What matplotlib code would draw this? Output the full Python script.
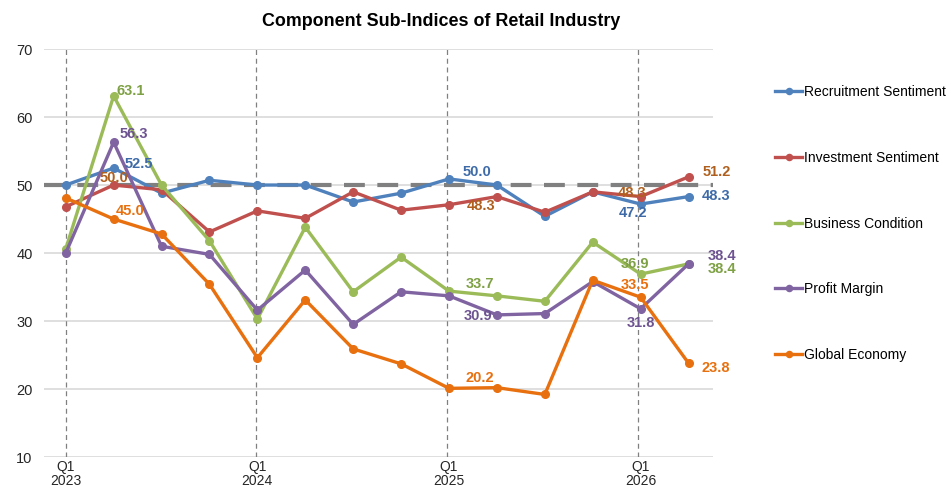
import matplotlib.pyplot as plt
import numpy as np

plt.rcParams["font.family"] = ["Liberation Sans", "DejaVu Sans"]

quarters = ["Q1\n2023", "", "", "", "Q1\n2024", "", "", "", "Q1\n2025", "", "", "", "Q1\n2026", ""]

recruitment = [50.0, 52.5, 48.8, 50.7, 50.0, 50.0, 47.5, 48.8, 50.9, 50.0, 45.4, 49.0, 47.2, 48.3]
investment = [46.8, 50.0, 49.3, 43.1, 46.2, 45.1, 49.0, 46.3, 47.1, 48.3, 46.0, 49.0, 48.3, 51.2]
business = [40.6, 63.1, 50.0, 41.8, 30.3, 43.8, 34.3, 39.4, 34.4, 33.7, 32.9, 41.6, 36.9, 38.4]
profit = [40.0, 56.3, 41.0, 39.8, 31.6, 37.5, 29.5, 34.3, 33.7, 30.9, 31.1, 35.8, 31.8, 38.4]
global_econ = [48.1, 45.0, 42.8, 35.4, 24.6, 33.1, 25.9, 23.7, 20.1, 20.2, 19.2, 36.0, 33.5, 23.8]

series = [
    ("Recruitment Sentiment", recruitment, "#4F81BD", "#3E6BA8"),
    ("Investment Sentiment", investment, "#C0504D", "#B0601E"),
    ("Business Condition", business, "#9BBB59", "#7FA145"),
    ("Profit Margin", profit, "#8064A2", "#6E5391"),
    ("Global Economy", global_econ, "#E8700F", "#E8700F"),
]

# label offsets in pixels (dx, dy, ha) per series and point index
label_pos = {
    "Recruitment Sentiment": {1: (11, 4, "left"), 9: (-20, 13, "center"), 12: (-8, -9, "center"), 13: (13, 1, "left")},
    "Investment Sentiment": {1: (0, 7, "center"), 9: (-16, -9, "center"), 12: (-9, 4, "center"), 13: (14, 5, "left")},
    "Business Condition": {1: (3, 5, "left"), 9: (-17, 12, "center"), 12: (-6, 10, "center"), 13: (19, -5, "left")},
    "Profit Margin": {1: (6, 8, "left"), 9: (-19, -1, "center"), 12: (0, -14, "center"), 13: (19, 8, "left")},
    "Global Economy": {1: (2, 8, "left"), 9: (-17, 10, "center"), 12: (-6, 12, "center"), 13: (13, -5, "left")},
}

x = np.arange(len(quarters))

fig = plt.figure(figsize=(9.5, 4.88), dpi=100)
ax = fig.add_axes([0.046, 0.0635, 0.704, 0.836])

ax.set_ylim(10, 70)
ax.set_xlim(-0.46, 13.5)
ax.set_yticks(range(10, 71, 10))
ax.grid(axis="y", color="#d9d9d9", linewidth=1.2)
ax.set_axisbelow(True)
for s in ax.spines.values():
    s.set_visible(False)

for i, q in enumerate(quarters):
    if q:
        ax.axvline(i - 0.02 * (i // 4), color="#808080", linestyle=(0, (4, 3)), linewidth=0.9, zorder=1)

ax.axhline(50, color="#808080", linestyle=(0, (5, 3)), linewidth=3, zorder=2)

for name, vals, color, lcolor in series:
    ax.plot(x, vals, color=color, linewidth=2.4, marker="o", markersize=5.5, label=name, zorder=3)
    for i, (dx, dy, ha) in label_pos[name].items():
        ax.annotate(f"{vals[i]:.1f}", (x[i], vals[i]), xytext=(dx, dy), textcoords="offset pixels",
                    ha=ha, va="center", fontsize=10.5, fontweight="bold", color=lcolor, zorder=4)

ax.set_xticks(x)
ax.set_xticklabels(quarters, fontsize=10, color="#262626", linespacing=1.05)
ax.tick_params(axis="y", labelsize=10.5, labelcolor="#262626", length=0, pad=8)
ax.tick_params(axis="x", length=0, pad=2)

fig.text(0.464, 0.955, "Component Sub-Indices of Retail Industry", fontsize=12.9, fontweight="bold",
         ha="center", va="center")

fig.legend(loc="upper left", bbox_to_anchor=(0.811, 0.834), frameon=False, fontsize=10,
           labelspacing=3.72, handlelength=2.0, handletextpad=0.15, markerscale=0.8,
           borderaxespad=0, borderpad=0.3)

fig.savefig("out.png", dpi=100)
